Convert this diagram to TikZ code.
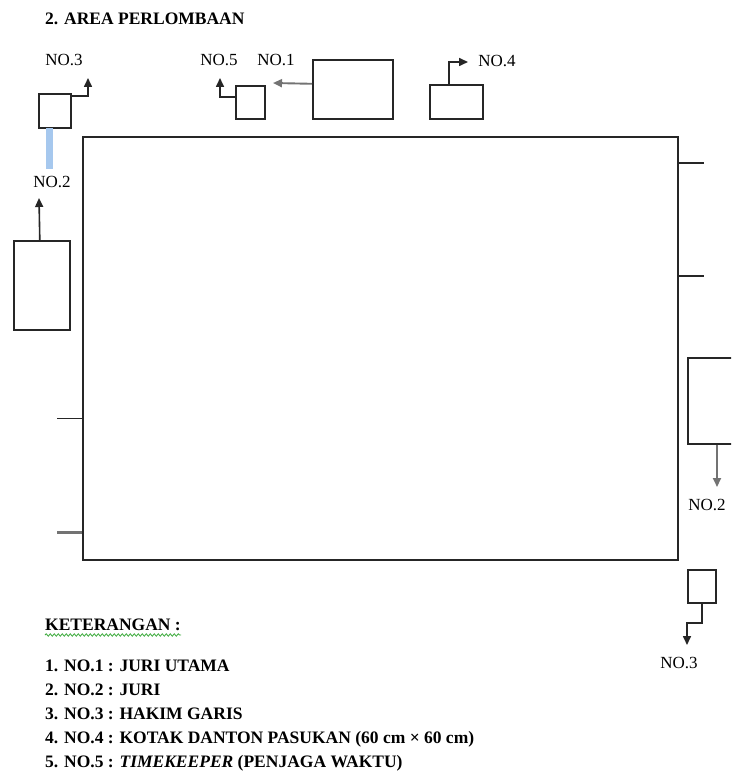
\documentclass[tikz,border=0pt]{standalone}
\usepackage{fontspec}
\setmainfont{Liberation Serif}
\usetikzlibrary{arrows.meta,decorations.pathmorphing}
\definecolor{barblue}{RGB}{166,200,238}
\definecolor{spellgreen}{RGB}{60,170,60}
\begin{document}
\begin{tikzpicture}[x=1pt,y=-1pt,
  box/.style={draw=black!85,line width=1.6pt,fill=white,inner sep=0pt,anchor=north west},
  conn/.style={draw=black!85,line width=1.6pt,-{Triangle[length=9pt,width=8pt]}},
  gconn/.style={draw=black!55,line width=1.9pt,-{Triangle[length=9pt,width=8pt]}},
  tick/.style={draw=black!85,line width=1.6pt},
  lbl/.style={font=\fontsize{17}{19}\selectfont,inner sep=0pt,anchor=base},
  leg/.style={font=\bfseries\fontsize{17.5}{20}\selectfont,inner sep=0pt,anchor=base west}]
\clip (0,0) rectangle (731,773);
\fill[white] (0,0) rectangle (731,773);

% title
\node[leg] (title) at (45,25) {2. AREA PERLOMBAAN};

% main field
\node[box,minimum width=595pt,minimum height=423pt] (main) at (82,136) {};

% boxes
\node[box,minimum width=32pt,minimum height=34pt] (b3tl) at (38,93) {};
\node[inner sep=0pt,fill=barblue,minimum width=7pt,minimum height=41pt,anchor=north west] (bar) at (46,128) {};
\node[box,minimum width=56pt,minimum height=89pt] (b2l) at (13,240) {};
\node[box,minimum width=29pt,minimum height=33pt] (b5) at (235,85) {};
\node[box,minimum width=80pt,minimum height=59pt] (b1) at (312,59) {};
\node[box,minimum width=53pt,minimum height=34pt] (b4) at (429,84) {};
\node[box,minimum width=60pt,minimum height=86pt] (b2r) at (687,357) {};
\node[box,minimum width=28pt,minimum height=33pt] (b3br) at (687,569) {};

% labels
\node[lbl] (l3a) at (64,66) {NO.3};
\node[lbl] (l5) at (219,66) {NO.5};
\node[lbl] (l1) at (276,66) {NO.1};
\node[lbl] (l4) at (497,67) {NO.4};
\node[lbl] (l2a) at (52,187) {NO.2};
\node[lbl] (l2b) at (707,510) {NO.2};
\node[lbl] (l3b) at (679,668) {NO.3};

% arrow tips
\coordinate (t3a) at (88,78);
\coordinate (t5) at (220,78);
\coordinate (t1) at (273,83);
\coordinate (t4) at (468,62);
\coordinate (t2a) at (39,198);
\coordinate (t2b) at (717,487);
\coordinate (k3b) at (701,623);
\coordinate (t3b) at (687,645);

% connectors
\draw[conn] ([yshift=-3pt]b3tl.north east) -| (t3a);
\draw[conn] ([yshift=-12pt]b5.north west) -| (t5);
\draw[gconn] ([yshift=5.5pt]b1.west) -- (t1);
\draw[conn] ([xshift=20pt]b4.north west) |- (t4);
\draw[conn] ([xshift=-2pt]b2l.north) -- (t2a);
\draw[gconn] ([xshift=30pt]b2r.south west) -- (t2b);
\draw[conn] (b3br.south) -- (b3br.south |- k3b) -| (t3b);

% ticks on the field
\draw[tick] ([yshift=-27pt]main.north east) -- ++(25,0);
\draw[tick] ([yshift=-140pt]main.north east) -- ++(25,0);
\draw[tick] ([yshift=142pt]main.south west) -- ++(-25,0);
\draw[draw=black!55,line width=2.4pt] ([yshift=28pt]main.south west) -- ++(-25,0);

% legend
\node[leg] (ket) at (45,630) {KETERANGAN :};
\draw[spellgreen,line width=0.8pt,decorate,decoration={snake,amplitude=1.2pt,segment length=4pt}] ([yshift=-5pt]ket.base west) -- ([yshift=-5pt]ket.base east);
\node[leg] (k1) at (45,671) {1. NO.1 : JURI UTAMA};
\node[leg] (k2) at (45,695) {2. NO.2 : JURI};
\node[leg] (k3) at (45,719) {3. NO.3 : HAKIM GARIS};
\node[leg] (k4) at (45,743) {4. NO.4 : KOTAK DANTON PASUKAN (60 cm × 60 cm)};
\node[leg] (k5) at (45,767) {5. NO.5 : \textit{TIMEKEEPER} (PENJAGA WAKTU)};
\end{tikzpicture}
\end{document}
